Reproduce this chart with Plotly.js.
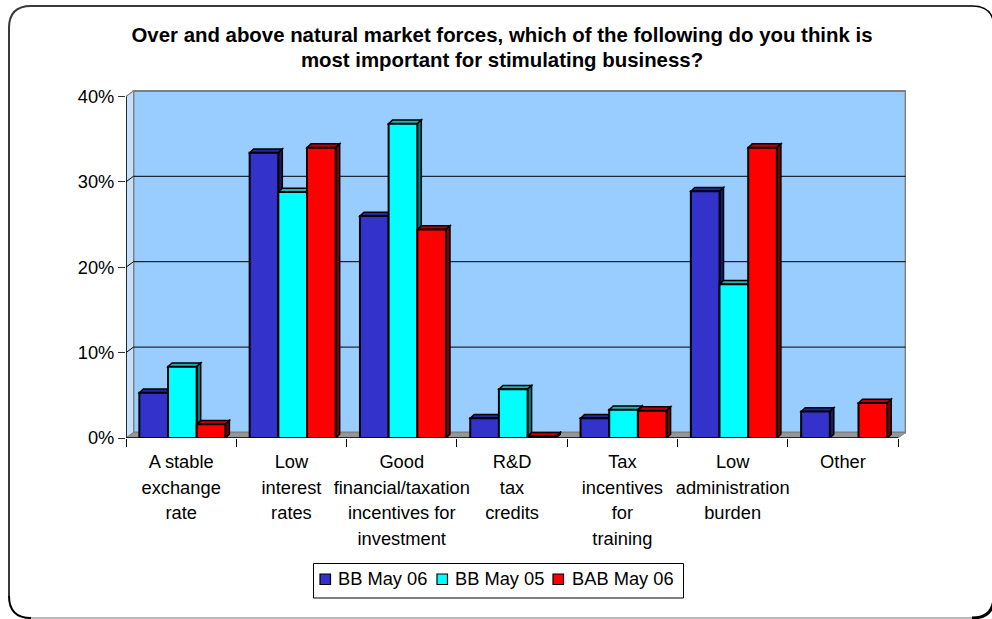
<!DOCTYPE html>
<html><head><meta charset="utf-8">
<script src="https://cdn.plot.ly/plotly-3.0.1.min.js"></script>
<style>html,body{margin:0;padding:0;background:#fff;overflow:hidden}#c{width:992px;height:619px}</style>
</head><body><div id="c"></div>
<script>
const categories=['A stable exchange rate','Low interest rates','Good financial/taxation incentives for investment','R&D tax credits','Tax incentives for training','Low administration burden','Other'];
const categoryLines=[['A stable','exchange','rate'],['Low','interest','rates'],['Good','financial/taxation','incentives for','investment'],['R&amp;D','tax','credits'],['Tax','incentives','for','training'],['Low','administration','burden'],['Other']];
const bbMay06=[5.3,33.4,26,2.3,2.3,28.9,3.1];
const bbMay05=[8.35,28.8,36.8,5.7,3.3,18,null];
const babMay06=[1.6,34,24.4,0.2,3.2,34,4.1];
const yTicks=[0,10,20,30,40];
const yTickLabels=['0%','10%','20%','30%','40%'];
const seriesNames=['BB May 06','BB May 05','BAB May 06'];
const frontColors=['#3333CC','#00FFFF','#FF0000'];
const topColors=['#2626A0','#22B0B0','#C00000'];
const sideColors=['#1A1A66','#008080','#800000'];
const titleLines=['Over and above natural market forces, which of the following do you think is','most important for stimulating business?'];

// plot geometry
const L=126,R=86,T=90,B=181,W=780,H=348,pxX=110.3,pxY=8.54;
const xMax=-0.5+W/pxX,yMax=H/pxY;
const xU=p=>p/pxX,yU=p=>p/pxY;
const barW=0.26,offs=[-0.379,-0.119,0.141];
const depthX=xU(4),depthY=yU(3.8);
const wallX=xU(7.5),wallY=yU(5.5);
const xp=p=>(p-L)/W,yp=p=>(619-B-p)/H;
const poly=pts=>'M'+pts.map(a=>a[0]+','+a[1]).join('L')+'Z';
const shapes=[];
const data=(path,fill,color,width)=>({type:'path',xref:'x',yref:'y',layer:'below',path,fillcolor:fill,line:{color:color,width:width}});

// frame
const fx0=xp(9),fx1=xp(994),fy0=yp(6),fy1=yp(618),rx=22/W,ry=22/H;
const paper=(path,color,w)=>({type:'path',xref:'paper',yref:'paper',layer:'below',path,line:{color:color,width:w}});
shapes.push(paper(`M${fx0},${fy1+ry}L${fx0},${fy0-ry}Q${fx0},${fy0} ${fx0+rx},${fy0}L${fx1-rx},${fy0}`,'#3a3a3a',2));
shapes.push(paper(`M${fx1-rx},${fy0}Q${fx1},${fy0} ${fx1},${fy0-ry}`,'#000',1.5));
shapes.push(paper(`M${fx0},${fy1+ry}Q${fx0},${fy1} ${fx0+rx},${fy1}`,'#000',2));
shapes.push(paper(`M${fx0+rx},${fy1}L${fx1-rx},${fy1}`,'#a0a0a0',1.5));
shapes.push(paper(`M${fx1-rx},${fy1}Q${fx1},${fy1} ${fx1},${fy1+ry}`,'#000',3));

// walls & floor
const x0=-0.5,x1=6.5,yTop=40;
shapes.push(data(poly([[x0+wallX,wallY],[x1+wallX,wallY],[x1+wallX,yTop+wallY],[x0+wallX,yTop+wallY]]),'#99CCFF','#808080',2));
shapes.push(data(poly([[x0,0],[x0+wallX,wallY],[x0+wallX,yTop+wallY],[x0,yTop]]),'#C4E0FA','#808080',1));
shapes.push(data(poly([[x0,0],[x1,0],[x1+wallX,wallY],[x0+wallX,wallY]]),'#969696','#808080',1));
yTicks.slice(1).forEach(t=>{
  if(t<40) shapes.push({type:'line',xref:'x',yref:'y',layer:'below',x0:x0+wallX,x1:x1+wallX,y0:t+wallY,y1:t+wallY,line:{color:'#000',width:1}});
  shapes.push({type:'line',xref:'x',yref:'y',layer:'below',x0:x0,x1:x0+wallX,y0:t,y1:t+wallY,line:{color:t===40?'#808080':'#000',width:1}});
});

// bar depth faces
[bbMay06,bbMay05,babMay06].forEach((vals,s)=>{
  vals.forEach((v,i)=>{
    if(v===null) return;
    const a=i+offs[s],b=a+barW;
    shapes.push(data(poly([[a,v],[b,v],[b+depthX,v+depthY],[a+depthX,v+depthY]]),topColors[s],'#000',1.5));
    shapes.push(data(poly([[b,0],[b+depthX,depthY],[b+depthX,v+depthY],[b,v]]),sideColors[s],'#000',1.5));
  });
});
// axis lines
const axisLine=(a,b,c,d)=>({type:'line',xref:'x',yref:'y',layer:'above',x0:a,x1:b,y0:c,y1:d,line:{color:'#000',width:1.5}});
shapes.push(axisLine(x0,x1,0,0));
shapes.push(axisLine(x0,x0,0,yTop));

const traces=[bbMay06,bbMay05,babMay06].map((vals,s)=>({
  type:'bar',name:seriesNames[s],x:categories,y:vals,width:barW,offset:offs[s],
  marker:{color:frontColors[s],line:{color:'#000',width:2}},hoverinfo:'x+y',showlegend:false
}));

const FONT='"Liberation Sans", Arial, sans-serif';
const lines=(arr,size)=>arr.map(t=>`<span style="font-size:${size}px">${t}</span>`).join('<br>');

// legend box, keys and names
const legendKeyX=[320,437,553],legendTextX=[338,455,572];
shapes.push({type:'rect',xref:'paper',yref:'paper',layer:'above',x0:xp(313.5),x1:xp(683.5),y0:yp(563.5),y1:yp(598),fillcolor:'rgba(0,0,0,0)',line:{color:'#000',width:1}});
const annotations=seriesNames.map((n,s)=>{
  shapes.push({type:'rect',xref:'paper',yref:'paper',layer:'above',x0:xp(legendKeyX[s]),x1:xp(legendKeyX[s]+10.5),y0:yp(574),y1:yp(584.5),fillcolor:frontColors[s],line:{color:'#000',width:1.2}});
  return {xref:'paper',yref:'paper',x:xp(legendTextX[s]),y:yp(578.5),xanchor:'left',yanchor:'middle',showarrow:false,text:n,font:{family:FONT,size:18.3,color:'#000'},borderpad:0,borderwidth:0};
});

Plotly.newPlot('c',traces,{
  width:992,height:619,showlegend:false,
  margin:{l:L,r:R,t:T,b:B,pad:0},
  paper_bgcolor:'#fff',plot_bgcolor:'rgba(0,0,0,0)',
  font:{family:FONT,color:'#000',size:18.3},
  barmode:'overlay',
  title:{text:lines(titleLines,20.4),font:{family:FONT,size:19.4,weight:700,color:'#000'},xref:'container',yref:'container',x:502/992,y:1-42/619,xanchor:'center',yanchor:'middle'},
  xaxis:{type:'category',categoryorder:'array',categoryarray:categories,range:[-0.5,xMax],tickmode:'array',tickvals:categories,ticktext:categoryLines.map(a=>lines(a,18.3)),tickson:'boundaries',ticks:'outside',ticklen:8,tickcolor:'#000',tickwidth:1,tickfont:{family:FONT,size:19.8,color:'#000'},ticklabelstandoff:9,showgrid:false,zeroline:false,showline:false,tickangle:0,automargin:false},
  yaxis:{range:[0,yMax],tickmode:'array',tickvals:yTicks,ticktext:yTickLabels,ticks:'outside',ticklen:7,tickcolor:'#333',tickwidth:1,tickfont:{family:FONT,size:18.3,color:'#000'},showgrid:false,zeroline:false,showline:false,automargin:false},
  shapes,annotations
},{displayModeBar:false,staticPlot:true});
</script></body></html>
